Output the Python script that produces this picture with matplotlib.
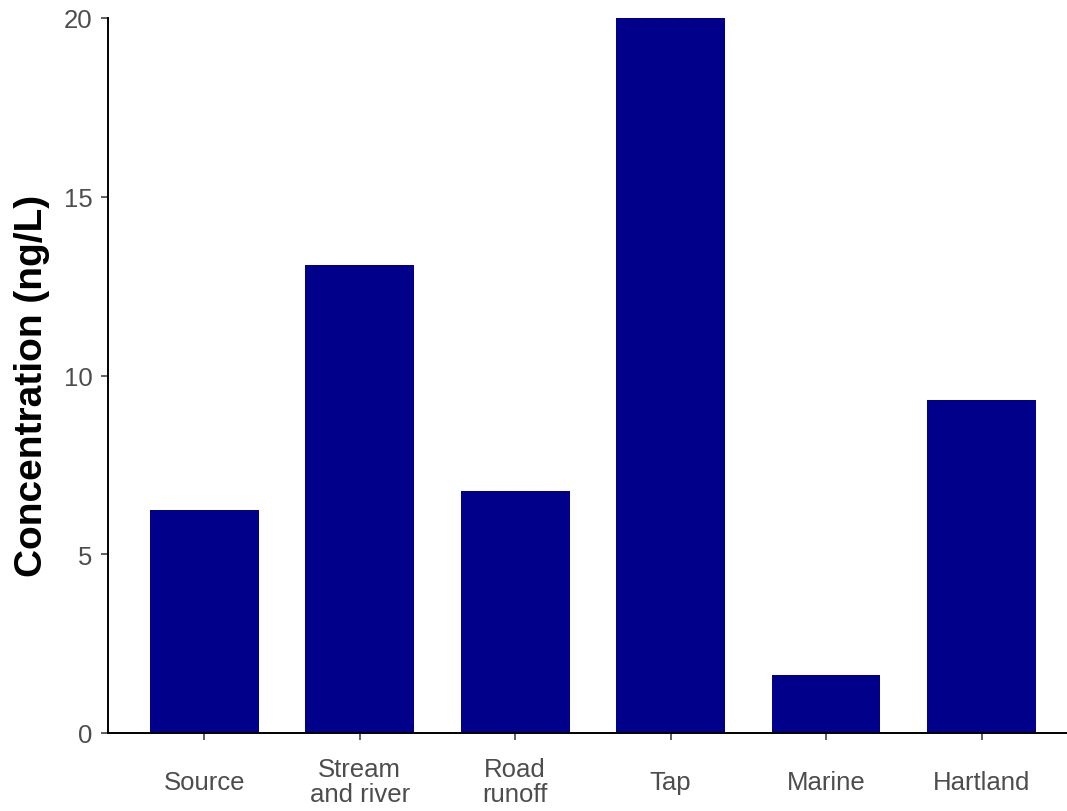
import matplotlib.pyplot as plt

plt.rcParams['font.family'] = ['Liberation Sans', 'DejaVu Sans']

# site categories and mean concentrations (ng/L)
sites = ['Source', 'Stream\nand river', 'Road\nrunoff', 'Tap', 'Marine', 'Hartland']
conc = [6.24, 13.1, 6.77, 20.0, 1.62, 9.31]

fig = plt.figure(figsize=(10.67, 8.12), dpi=100)
ax = fig.add_axes([108 / 1067, 78 / 812, 959 / 1067, 715 / 812])

x = list(range(1, len(sites) + 1))
ax.bar(x, conc, width=0.7, color='#00008B')

ax.set_xlim(0.38, 6.55)
ax.set_ylim(0, 20)
ax.set_yticks([0, 5, 10, 15, 20])
ax.set_xticks(x)
ax.set_xticklabels(sites)

for side in ['top', 'right']:
    ax.spines[side].set_visible(False)
for side in ['left', 'bottom']:
    ax.spines[side].set_linewidth(1.4)
    ax.spines[side].set_color('black')

ax.tick_params(axis='y', length=5, width=1.1, color='#333333', pad=6,
               labelsize=18.5, labelcolor='#4D4D4D')
ax.tick_params(axis='x', length=5, width=1.1, color='#333333', pad=30,
               labelsize=18.5, labelcolor='#4D4D4D')
for lab in ax.get_xticklabels():
    lab.set_va('center')
    lab.set_linespacing(1.08)

ax.set_ylabel('Concentration (ng/L)', fontsize=28, fontweight='bold')
ax.yaxis.set_label_coords(-0.06, 0.487)

plt.savefig('out.png', dpi=100)
